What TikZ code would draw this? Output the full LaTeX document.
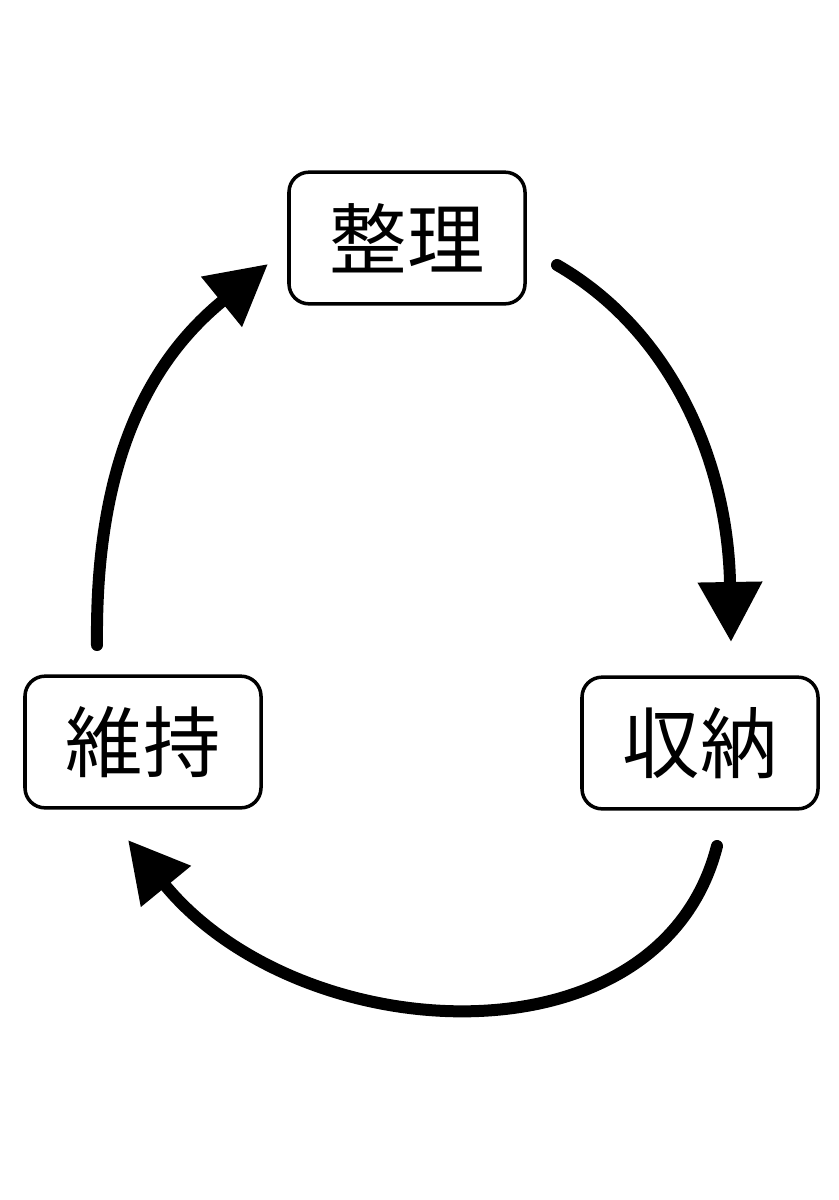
\documentclass[tikz,border=0pt]{standalone}
\usepackage{fontspec}
\newfontfamily\cjk{Noto Sans CJK JP}
\usetikzlibrary{arrows.meta}
\tikzset{
  stage/.style={draw, line width=3pt, rounded corners=0.6cm, minimum width=7.08cm, minimum height=3.95cm, font=\cjk\fontsize{66}{70}\selectfont},
  cyc/.style={line width=0.36cm, line cap=round, -{Triangle[length=1.8cm,width=1.85cm]}}
}
\begin{document}
\begin{tikzpicture}[x=0.03cm, y=-0.03cm]
        \useasboundingbox (0, 0) rectangle (839, 1200);
        \node[stage] (seiri) at (407, 238) {整理};
        \node[stage] (iji) at (143, 742) {維持};
        \node[stage] (shuno) at (700, 743) {収納};
        % cycle arrows
        \coordinate (a1) at (557, 265);
        \coordinate (b1) at (731, 642);
        \coordinate (a2) at (717, 846);
        \coordinate (b2) at (128, 840);
        \coordinate (a3) at (97, 645);
        \coordinate (b3) at (268, 264);
        \draw[cyc] (a1) .. controls (670, 330) and (728, 460) .. (b1);
        \draw[cyc] (a2) .. controls (660, 1070) and (300, 1050) .. (b2);
        \draw[cyc] (a3) .. controls (95, 460) and (150, 360) .. (b3);
    \end{tikzpicture}
\end{document}
